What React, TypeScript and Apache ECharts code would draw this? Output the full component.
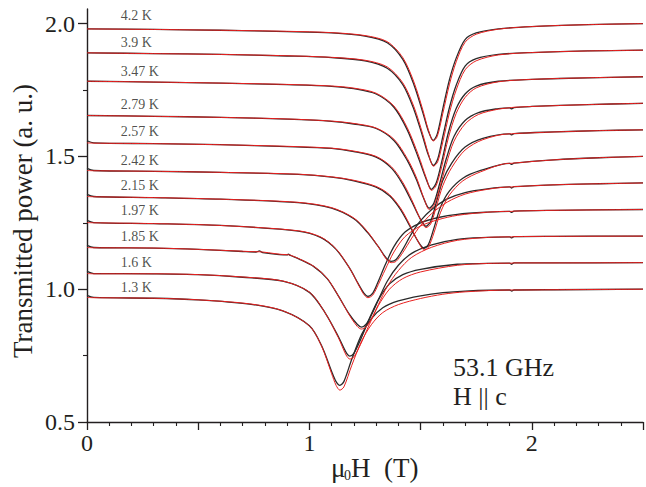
import React, { useEffect, useRef } from "react";
import * as echarts from "echarts";

type Pt = [number, number, number]; // [field (T), measured (black), fit (red)]

const FONT = "Liberation Serif";
const INK = "#231f20";
const RED = "#e8201f";

const temps = ["4.2 K", "3.9 K", "3.47 K", "2.79 K", "2.57 K", "2.42 K", "2.15 K", "1.97 K", "1.85 K", "1.6 K", "1.3 K"];
const labelY = [2.03, 1.927, 1.821, 1.695, 1.593, 1.485, 1.392, 1.298, 1.198, 1.1, 1.006];
const labelX = 0.15;

const yMajor = [0.5, 1.0, 1.5, 2.0];
const yMinor = [0.75, 1.25, 1.75];

const T42: Pt[] = [
  [0, 1.98, 1.98], [0.3, 1.978, 1.978], [0.6, 1.975, 1.975], [0.9, 1.97, 1.971], [1.1, 1.965, 1.966],
  [1.25, 1.953, 1.955], [1.35, 1.928, 1.932], [1.42, 1.865, 1.872], [1.47, 1.77, 1.78], [1.51, 1.665, 1.675],
  [1.535, 1.595, 1.6], [1.557, 1.56, 1.558], [1.575, 1.585, 1.575], [1.6, 1.68, 1.662], [1.63, 1.79, 1.772],
  [1.66, 1.87, 1.856], [1.7, 1.94, 1.93], [1.75, 1.965, 1.96], [1.85, 1.98, 1.979], [2.0, 1.989, 1.989],
  [2.25, 1.996, 1.996], [2.5, 2.0, 2.0],
];
const T39: Pt[] = [
  [0, 1.89, 1.89], [0.3, 1.887, 1.887], [0.6, 1.884, 1.884], [0.9, 1.878, 1.879], [1.1, 1.872, 1.873],
  [1.25, 1.86, 1.862], [1.35, 1.832, 1.837], [1.42, 1.77, 1.777], [1.47, 1.677, 1.687], [1.51, 1.573, 1.583],
  [1.535, 1.505, 1.51], [1.558, 1.466, 1.463], [1.577, 1.49, 1.48], [1.6, 1.575, 1.555], [1.63, 1.685, 1.665],
  [1.66, 1.768, 1.75], [1.7, 1.84, 1.826], [1.75, 1.868, 1.86], [1.85, 1.884, 1.882], [2.0, 1.891, 1.891],
  [2.25, 1.897, 1.897], [2.5, 1.9, 1.9],
];
const T347: Pt[] = [
  [0, 1.783, 1.783], [0.3, 1.78, 1.78], [0.6, 1.776, 1.776], [0.9, 1.77, 1.771], [1.1, 1.764, 1.765],
  [1.2, 1.755, 1.757], [1.3, 1.735, 1.738], [1.38, 1.685, 1.69], [1.44, 1.6, 1.608], [1.49, 1.495, 1.505],
  [1.525, 1.415, 1.42], [1.549, 1.376, 1.372], [1.57, 1.4, 1.39], [1.595, 1.48, 1.462], [1.625, 1.59, 1.57],
  [1.66, 1.68, 1.662], [1.7, 1.735, 1.722], [1.75, 1.765, 1.758], [1.85, 1.783, 1.781], [2.0, 1.79, 1.79],
  [2.25, 1.796, 1.796], [2.5, 1.8, 1.8],
];
const T279: Pt[] = [
  [0, 1.654, 1.654], [0.3, 1.651, 1.651], [0.6, 1.647, 1.647], [0.9, 1.64, 1.641], [1.1, 1.632, 1.633],
  [1.2, 1.622, 1.624], [1.3, 1.605, 1.607], [1.38, 1.56, 1.565], [1.44, 1.485, 1.492], [1.48, 1.415, 1.423],
  [1.515, 1.34, 1.342], [1.539, 1.305, 1.3], [1.56, 1.325, 1.315], [1.585, 1.395, 1.378], [1.615, 1.49, 1.47],
  [1.65, 1.575, 1.557], [1.7, 1.635, 1.622], [1.76, 1.665, 1.658], [1.85, 1.68, 1.678], [1.9, 1.683, 1.683],
  [1.91, 1.679, 1.684], [1.92, 1.684, 1.685], [2.0, 1.688, 1.688], [2.25, 1.695, 1.695], [2.5, 1.7, 1.7],
];
const T257: Pt[] = [
  [0, 1.559, 1.551], [0.03, 1.551, 1.55], [0.3, 1.548, 1.548], [0.6, 1.544, 1.544], [0.9, 1.537, 1.538],
  [1.1, 1.53, 1.531], [1.2, 1.518, 1.52], [1.3, 1.497, 1.5], [1.37, 1.455, 1.46], [1.42, 1.395, 1.402],
  [1.46, 1.33, 1.337], [1.5, 1.262, 1.262], [1.524, 1.237, 1.232], [1.545, 1.255, 1.245], [1.57, 1.325, 1.308],
  [1.6, 1.41, 1.39], [1.64, 1.475, 1.458], [1.7, 1.535, 1.524], [1.78, 1.568, 1.563], [1.9, 1.585, 1.585],
  [1.91, 1.581, 1.585], [1.92, 1.586, 1.586], [2.1, 1.592, 1.592], [2.3, 1.597, 1.597], [2.5, 1.6, 1.6],
];
const T242: Pt[] = [
  [0, 1.455, 1.447], [0.03, 1.447, 1.446], [0.3, 1.444, 1.444], [0.6, 1.44, 1.44], [0.95, 1.432, 1.433],
  [1.1, 1.422, 1.423], [1.2, 1.408, 1.41], [1.3, 1.384, 1.387], [1.36, 1.352, 1.356], [1.41, 1.3, 1.305],
  [1.45, 1.24, 1.245], [1.49, 1.178, 1.178], [1.516, 1.154, 1.148], [1.535, 1.168, 1.158], [1.56, 1.23, 1.212],
  [1.59, 1.31, 1.29], [1.63, 1.37, 1.355], [1.69, 1.418, 1.408], [1.77, 1.447, 1.442], [1.9, 1.474, 1.474],
  [1.91, 1.47, 1.474], [1.92, 1.475, 1.475], [2.1, 1.487, 1.487], [2.3, 1.495, 1.495], [2.5, 1.5, 1.5],
];
const T215: Pt[] = [
  [0, 1.357, 1.349], [0.03, 1.349, 1.348], [0.3, 1.345, 1.345], [0.6, 1.339, 1.339], [0.95, 1.326, 1.327],
  [1.1, 1.305, 1.307], [1.2, 1.265, 1.268], [1.26, 1.215, 1.218], [1.31, 1.16, 1.16], [1.345, 1.118, 1.114],
  [1.368, 1.105, 1.1], [1.39, 1.112, 1.105], [1.42, 1.15, 1.138], [1.46, 1.21, 1.192], [1.5, 1.258, 1.24],
  [1.55, 1.3, 1.285], [1.62, 1.34, 1.328], [1.7, 1.364, 1.358], [1.8, 1.378, 1.376], [1.9, 1.385, 1.385],
  [1.91, 1.381, 1.385], [1.92, 1.386, 1.386], [2.1, 1.393, 1.393], [2.3, 1.397, 1.397], [2.5, 1.4, 1.4],
];
const T197: Pt[] = [
  [0, 1.259, 1.251], [0.03, 1.251, 1.25], [0.3, 1.247, 1.247], [0.6, 1.24, 1.24], [0.95, 1.219, 1.22],
  [1.05, 1.195, 1.197], [1.12, 1.15, 1.152], [1.18, 1.08, 1.08], [1.22, 1.02, 1.018], [1.245, 0.985, 0.98],
  [1.263, 0.973, 0.968], [1.285, 0.985, 0.978], [1.31, 1.03, 1.018], [1.34, 1.09, 1.072], [1.38, 1.16, 1.14],
  [1.43, 1.215, 1.198], [1.5, 1.25, 1.238], [1.58, 1.27, 1.262], [1.665, 1.282, 1.278], [1.8, 1.29, 1.29],
  [1.9, 1.293, 1.293], [1.91, 1.289, 1.293], [1.92, 1.294, 1.294], [2.1, 1.297, 1.297], [2.5, 1.3, 1.3],
];
const T185: Pt[] = [
  [0, 1.165, 1.157], [0.03, 1.157, 1.156], [0.3, 1.155, 1.155], [0.5, 1.15, 1.15], [0.7, 1.142, 1.143],
  [0.76, 1.14, 1.141], [0.775, 1.144, 1.141], [0.79, 1.138, 1.14], [0.9, 1.129, 1.13], [0.905, 1.132, 1.13],
  [0.915, 1.127, 1.128], [0.95, 1.115, 1.116], [1.02, 1.085, 1.086], [1.08, 1.04, 1.041], [1.13, 0.975, 0.975],
  [1.18, 0.905, 0.902], [1.215, 0.868, 0.86], [1.234, 0.857, 0.85], [1.255, 0.868, 0.858], [1.28, 0.905, 0.89],
  [1.31, 0.96, 0.942], [1.35, 1.03, 1.01], [1.4, 1.09, 1.07], [1.46, 1.135, 1.12], [1.55, 1.167, 1.158],
  [1.665, 1.188, 1.184], [1.8, 1.195, 1.195], [1.9, 1.197, 1.197], [1.91, 1.193, 1.197], [1.92, 1.198, 1.198],
  [2.1, 1.199, 1.199], [2.5, 1.2, 1.2],
];
const T16: Pt[] = [
  [0, 1.067, 1.059], [0.03, 1.059, 1.058], [0.3, 1.058, 1.058], [0.5, 1.055, 1.055], [0.7, 1.045, 1.046],
  [0.88, 1.03, 1.031], [1.0, 0.988, 0.989], [1.07, 0.912, 0.912], [1.13, 0.822, 0.818], [1.165, 0.762, 0.752],
  [1.182, 0.748, 0.737], [1.2, 0.758, 0.745], [1.23, 0.81, 0.792], [1.27, 0.89, 0.868], [1.31, 0.96, 0.938],
  [1.36, 1.02, 1.0], [1.42, 1.055, 1.04], [1.5, 1.075, 1.065], [1.665, 1.094, 1.09], [1.8, 1.097, 1.097],
  [1.9, 1.098, 1.098], [1.91, 1.094, 1.098], [1.92, 1.099, 1.099], [2.1, 1.099, 1.099], [2.5, 1.1, 1.1],
];
const T13: Pt[] = [
  [0, 0.977, 0.969], [0.03, 0.969, 0.968], [0.3, 0.966, 0.966], [0.5, 0.96, 0.96], [0.73, 0.944, 0.945],
  [0.88, 0.918, 0.919], [1.0, 0.862, 0.862], [1.055, 0.787, 0.785], [1.1, 0.69, 0.682], [1.12, 0.652, 0.638],
  [1.137, 0.638, 0.62], [1.155, 0.652, 0.632], [1.19, 0.735, 0.712], [1.235, 0.83, 0.805], [1.28, 0.89, 0.868],
  [1.33, 0.93, 0.912], [1.4, 0.956, 0.942], [1.5, 0.975, 0.965], [1.6, 0.987, 0.981], [1.7, 0.993, 0.99],
  [1.9, 0.997, 0.997], [1.91, 0.993, 0.997], [1.92, 0.997, 0.997], [2.1, 0.998, 0.998], [2.5, 1.0, 1.0],
];

const curves: Pt[][] = [T42, T39, T347, T279, T257, T242, T215, T197, T185, T16, T13];

export default function App() {
  const ref = useRef<HTMLDivElement>(null);

  useEffect(() => {
    if (!ref.current) return;
    const chart = echarts.init(ref.current, undefined, { renderer: "svg" });

    const series: any[] = [];
    curves.forEach((c, i) => {
      series.push({
        type: "line",
        name: temps[i] + " data",
        data: c.map((p) => [p[0], p[1]]),
        showSymbol: false,
        smooth: 0.3,
        silent: true,
        lineStyle: { color: "#2a2a2a", width: 1.3 },
        z: 2,
      });
      series.push({
        type: "line",
        name: temps[i] + " fit",
        data: c.map((p) => [p[0], p[2]]),
        showSymbol: false,
        smooth: 0.3,
        silent: true,
        lineStyle: { color: RED, width: 1 },
        z: 3,
      });
    });
    series.push({
      type: "scatter",
      data: temps.map((t, i) => ({ name: t, value: [labelX, labelY[i]] })),
      symbolSize: 1,
      itemStyle: { color: "transparent" },
      silent: true,
      label: {
        show: true,
        position: "right",
        distance: 0,
        formatter: (p: any) => p.name,
        fontFamily: FONT,
        fontSize: 14,
        color: INK,
      },
      z: 5,
    });

    const axisLine = { lineStyle: { color: INK, width: 1.4 } };

    chart.setOption({
      animation: false,
      backgroundColor: "#ffffff",
      textStyle: { fontFamily: FONT },
      grid: { left: 87, right: 0, top: 9, bottom: 65, containLabel: false },
      xAxis: {
        type: "value",
        min: 0,
        max: 2.5,
        interval: 0.5,
        axisLine,
        axisTick: { show: true, length: 8, lineStyle: { color: INK, width: 1.3 } },
        minorTick: { show: true, splitNumber: 5, length: 4, lineStyle: { color: INK, width: 1.1 } },
        axisLabel: {
          fontFamily: FONT,
          fontSize: 24,
          color: INK,
          margin: 9,
          formatter: (v: number) => (Math.abs(v - Math.round(v)) < 1e-9 ? String(Math.round(v)) : ""),
        },
        splitLine: { show: false },
        minorSplitLine: { show: false },
      },
      yAxis: [
        {
          type: "value",
          min: 0.5,
          max: 2.055,
          axisLine: { show: true, ...axisLine },
          axisTick: { show: true, length: 9, customValues: yMajor, lineStyle: { color: INK, width: 1.3 } },
          axisLabel: {
            customValues: yMajor,
            fontFamily: FONT,
            fontSize: 24,
            color: INK,
            margin: 12,
            formatter: (v: number) => v.toFixed(1),
          },
          splitLine: { show: false },
        },
        {
          type: "value",
          min: 0.5,
          max: 2.055,
          position: "left",
          axisLine: { show: false },
          axisTick: { show: true, length: 4, customValues: yMinor, lineStyle: { color: INK, width: 1.1 } },
          axisLabel: { show: false },
          splitLine: { show: false },
        },
      ],
      series,
      graphic: [
        {
          type: "text",
          x: 22.5,
          y: 221,
          rotation: Math.PI / 2,
          silent: true,
          style: {
            text: "Transmitted power (a. u.)",
            fontFamily: FONT,
            fontSize: 27,
            fill: INK,
            align: "center",
            verticalAlign: "middle",
          },
        },
        {
          type: "text",
          x: 331,
          y: 468,
          silent: true,
          style: { text: "μ", fontFamily: FONT, fontSize: 27, fill: INK, align: "left", verticalAlign: "middle" },
        },
        {
          type: "text",
          x: 344,
          y: 475,
          silent: true,
          style: { text: "0", fontFamily: FONT, fontSize: 14, fill: INK, align: "left", verticalAlign: "middle" },
        },
        {
          type: "text",
          x: 351,
          y: 468,
          silent: true,
          style: { text: "H  (T)", fontFamily: FONT, fontSize: 27, fill: INK, align: "left", verticalAlign: "middle" },
        },
        {
          type: "text",
          x: 453,
          y: 367,
          silent: true,
          style: { text: "53.1 GHz", fontFamily: FONT, fontSize: 26, fill: INK, align: "left", verticalAlign: "middle" },
        },
        {
          type: "text",
          x: 453,
          y: 396,
          silent: true,
          style: { text: "H || c", fontFamily: FONT, fontSize: 26, fill: INK, align: "left", verticalAlign: "middle" },
        },
      ],
    });

    return () => chart.dispose();
  }, []);

  return (
    <div
      ref={ref}
      style={{ position: "fixed", left: 0, top: 0, width: 646, height: 487, background: "#fff" }}
    />
  );
}
